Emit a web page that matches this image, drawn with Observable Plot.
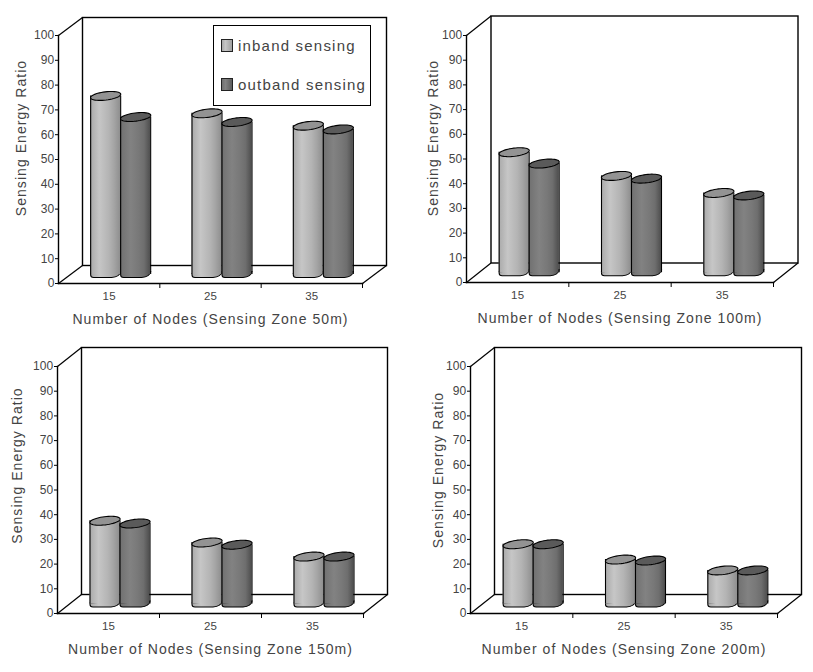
<!DOCTYPE html>
<html>
<head>
<meta charset="utf-8">
<script src="https://cdn.jsdelivr.net/npm/d3@7"></script>
<script src="https://cdn.jsdelivr.net/npm/@observablehq/plot@0.6"></script>
<style>
  html, body { margin: 0; padding: 0; background: #fff; }
  #chart { position: relative; width: 813px; height: 672px; overflow: hidden; font-family: "Liberation Sans", Arial, sans-serif; }
  #chart svg { position: absolute; }
  #chart svg g[aria-label="text"] { letter-spacing: 1.05px; }
  #chart svg g[aria-label="y-axis tick label"], #chart svg g[aria-label="x-axis tick label"] { letter-spacing: 0.2px; }
  #legend { position: absolute; left: 213px; top: 25px; width: 156px; height: 79px; border: 1.5px solid #000; background: #fff; }
  #legend .row { position: absolute; left: 7px; height: 14px; display: flex; align-items: center; font-size: 15px; letter-spacing: 1.2px; color: #444; white-space: nowrap; }
  #legend .sw { display: inline-block; width: 10px; height: 11px; border: 1px solid #222; margin-right: 5px; }
</style>
</head>
<body>
<div id="chart">
  <div id="legend"></div>
</div>
<script>
// Data
const nodes = ["15", "25", "35"];
const inband50 = [72, 65, 60];
const outband50 = [63.5, 61.5, 58.5];
const inband100 = [48.8, 39.2, 32.3];
const outband100 = [44.2, 38.1, 31.3];
const inband150 = [33.7, 24.9, 19.2];
const outband150 = [32.6, 24, 19.2];
const inband200 = [24.2, 18, 13.6];
const outband200 = [24.2, 17.6, 13.6];
const yTicks = [0, 10, 20, 30, 40, 50, 60, 70, 80, 90, 100];
const seriesNames = ["inband sensing", "outband sensing"];
const yTitle = "Sensing Energy Ratio";

// Layout of the four panels (front plane of the 3D box, in page pixels)
const panels = [
  {inband: inband50, outband: outband50, title: "Number of Nodes (Sensing Zone 50m)", x0: 58, x1: 362, y0: 283, y100: 35, depthX: 24, depthY: -18, ylx: 21, yly: 137.5},
  {inband: inband100, outband: outband100, title: "Number of Nodes (Sensing Zone 100m)", x0: 466, x1: 773, y0: 282, y100: 35, depthX: 24.5, depthY: -19.5, ylx: 433, yly: 137.5},
  {inband: inband150, outband: outband150, title: "Number of Nodes (Sensing Zone 150m)", x0: 57, x1: 363, y0: 613, y100: 366, depthX: 24, depthY: -19, ylx: 17, yly: 465},
  {inband: inband200, outband: outband200, title: "Number of Nodes (Sensing Zone 200m)", x0: 470, x1: 777, y0: 613, y100: 366, depthX: 24, depthY: -19, ylx: 438, yly: 469.5}
];

const marginLeft = 55, marginRight = 36, marginTop = 24, marginBottom = 50;
const textColor = "#444";
const barHalf = 15;
const pairOffset = 11.5;

// Custom symbol: a slightly tilted flat ellipse (top of a cylinder)
const capSymbol = {
  draw(ctx) {
    const a = barHalf + 0.2, b = 4.1, phi = -7 * Math.PI / 180;
    for (let i = 0; i < 48; ++i) {
      const t = i / 48 * 2 * Math.PI;
      const px = a * Math.cos(t) * Math.cos(phi) - b * Math.sin(t) * Math.sin(phi);
      const py = a * Math.cos(t) * Math.sin(phi) + b * Math.sin(t) * Math.cos(phi);
      i ? ctx.lineTo(px, py) : ctx.moveTo(px, py);
    }
    ctx.closePath();
  }
};
// Custom symbol: flat foot of a cylinder with rounded corners
const footSymbol = {
  draw(ctx) {
    const w = barHalf;
    ctx.moveTo(-w, -1);
    ctx.lineTo(-w, 0.5);
    ctx.quadraticCurveTo(-w, 3, -w + 3, 3);
    ctx.lineTo(w - 9, 3);
    ctx.quadraticCurveTo(w - 1, 2.5, w, -3);
    ctx.closePath();
  }
};

function gradient(id, stops) {
  const ns = "http://www.w3.org/2000/svg";
  const g = document.createElementNS(ns, "linearGradient");
  g.setAttribute("id", id);
  for (const [o, c] of stops) {
    const s = document.createElementNS(ns, "stop");
    s.setAttribute("offset", o);
    s.setAttribute("stop-color", c);
    g.appendChild(s);
  }
  return g;
}
const inStops = [[0, "#a9a9a9"], [0.3, "#c6c6c6"], [0.62, "#b4b4b4"], [0.8, "#a4a4a4"], [1, "#8e8e8e"]];
const outStops = [[0, "#707070"], [0.35, "#828282"], [0.62, "#787878"], [0.8, "#6e6e6e"], [1, "#4e4e4e"]];

const chart = document.getElementById("chart");

panels.forEach((p, pi) => {
  const innerW = p.x1 - p.x0, innerH = p.y0 - p.y100;
  const bw = innerW / 3;
  const cIn = pairOffset - barHalf, cOut = pairOffset + barHalf; // bar-centre offsets from band centre
  const dy = p.depthY / 2;
  const rows = k => nodes.map((n, i) => ({nodes: n, value: p[k][i]}));

  const cylinder = (data, c, gradId, capFill) => [
    Plot.dot(data, {x: "nodes", y: () => 0, dx: c, dy, symbol: footSymbol, fill: `url(#${gradId})`, stroke: "#000", strokeWidth: 1.1}),
    Plot.barY(data, {x: "nodes", y: "value", dy, insetLeft: bw / 2 + c - barHalf, insetRight: bw / 2 - c - barHalf, fill: `url(#${gradId})`}),
    Plot.ruleX(data, {x: "nodes", y1: 0, y2: "value", dx: c - barHalf, dy, stroke: "#000", strokeWidth: 1.1}),
    Plot.ruleX(data, {x: "nodes", y1: 0, y2: "value", dx: c + barHalf, dy, stroke: "#000", strokeWidth: 1.1}),
    Plot.dot(data, {x: "nodes", y: "value", dx: c, dy, symbol: capSymbol, fill: capFill, stroke: "#000", strokeWidth: 1.1})
  ];

  const diagonal = {draw(ctx) { ctx.moveTo(0, 0); ctx.lineTo(p.depthX, p.depthY); }};
  const gi = `grad-in-${pi}`, go = `grad-out-${pi}`;

  const svg = Plot.plot({
    width: innerW + marginLeft + marginRight,
    height: innerH + marginTop + marginBottom,
    marginLeft, marginRight, marginTop, marginBottom,
    style: {fontFamily: '"Liberation Sans", Arial, sans-serif', background: "transparent", overflow: "visible"},
    x: {type: "band", domain: nodes, padding: 0, round: false, axis: null},
    y: {domain: [0, 100], axis: null},
    marks: [
      () => { const d = document.createElementNS("http://www.w3.org/2000/svg", "defs"); d.appendChild(gradient(gi, inStops)); d.appendChild(gradient(go, outStops)); return d; },
      // back wall and floor
      Plot.frame({dx: p.depthX, dy: p.depthY, stroke: "#000", strokeWidth: 1.4}),
      Plot.dot([0, 100], {y: d => d, frameAnchor: "left", symbol: diagonal, stroke: "#000", strokeWidth: 1.2}),
      Plot.dot([0], {y: d => d, frameAnchor: "right", symbol: diagonal, stroke: "#000", strokeWidth: 1.2}),
      // axes
      Plot.frame({anchor: "left", stroke: "#000", strokeWidth: 1.4}),
      Plot.frame({anchor: "bottom", stroke: "#000", strokeWidth: 1.6}),
      Plot.axisY({ticks: yTicks, tickSize: 3, tickPadding: 1, fontSize: 12, label: null, color: textColor, stroke: "#000"}),
      Plot.axisX({tickSize: 5, text: null, label: null, dx: bw / 2, tickDirection: "bottom", stroke: "#000"}),
      Plot.axisX({tickSize: 0, tickPadding: 8, fontSize: 11.5, label: null, color: textColor}),
      // bars
      ...cylinder(rows("inband"), cIn, gi, "#939393"),
      ...cylinder(rows("outband"), cOut, go, "#5a5a5a"),
      // titles
      Plot.text([p.title], {frameAnchor: "bottom", lineAnchor: "middle", dy: 36, text: d => d, fontSize: 14, fill: textColor}),
      Plot.text([yTitle], {frameAnchor: "left", textAnchor: "middle", lineAnchor: "middle", rotate: -90, text: d => d, dx: p.ylx - p.x0, dy: p.yly - (p.y0 + p.y100) / 2, fontSize: 14, fill: textColor})
    ]
  });
  svg.style.left = (p.x0 - marginLeft) + "px";
  svg.style.top = (p.y100 - marginTop) + "px";
  chart.insertBefore(svg, document.getElementById("legend"));
});

// Legend inside the first panel
const legend = d3.select("#legend");
[[seriesNames[0], "linear-gradient(90deg,#a9a9a9,#c6c6c6 35%,#a0a0a0)", 12], [seriesNames[1], "linear-gradient(90deg,#707070,#828282 35%,#5c5c5c)", 51]].forEach(([name, bg, top]) => {
  const row = legend.append("div").attr("class", "row").style("top", top + "px");
  row.append("span").attr("class", "sw").style("background", bg);
  row.append("span").text(name);
});
</script>
</body>
</html>
